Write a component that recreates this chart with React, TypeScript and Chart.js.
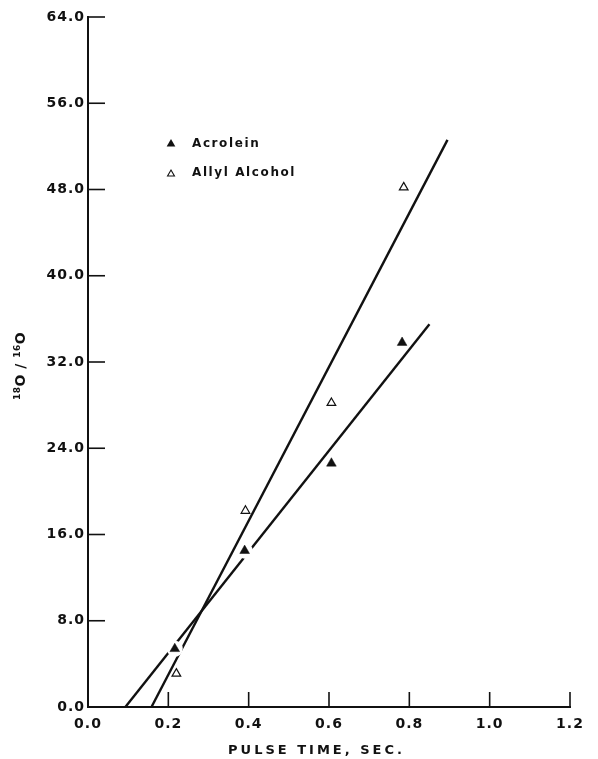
import React, { useEffect, useRef } from 'react';
import { Chart, registerables } from 'chart.js';

Chart.register(...registerables);

// ---- data ----
const acroleinX = [0.216, 0.39, 0.606, 0.782];
const acroleinY = [5.4, 14.5, 22.6, 33.8];
const allylX = [0.22, 0.392, 0.606, 0.786];
const allylY = [3.1, 18.2, 28.2, 48.2];
const acroleinFitX = [0.093, 0.85];
const acroleinFitY = [0, 35.5];
const allylFitX = [0.158, 0.895];
const allylFitY = [0, 52.6];
const xTicks = [0, 0.2, 0.4, 0.6, 0.8, 1.0, 1.2];
const yTicks = [0, 8, 16, 24, 32, 40, 48, 56, 64];
const seriesNames = ['Acrolein', 'Allyl Alcohol'];
const xTitle = 'PULSE TIME, SEC.';
// y title "18O/16O": [text, isSuperscript]
const yTitleParts: [string, boolean][] = [
  ['18', true],
  ['O', false],
  [' / ', false],
  ['16', true],
  ['O', false],
];

const INK = '#111111';
const FONT = '"DejaVu Sans", "Liberation Sans", sans-serif';

const zip = (xs: number[], ys: number[]) => xs.map((x, i) => ({ x, y: ys[i] }));

function triangle(ctx: CanvasRenderingContext2D, x: number, y: number, r: number) {
  const a = (2 * Math.PI) / 3;
  ctx.beginPath();
  ctx.moveTo(x, y - r);
  ctx.lineTo(x + Math.sin(a) * r, y - Math.cos(a) * r);
  ctx.lineTo(x + Math.sin(2 * a) * r, y - Math.cos(2 * a) * r);
  ctx.closePath();
}

const decorPlugin = {
  id: 'decor',
  beforeLayout(chart: any) {
    (chart.ctx as any).letterSpacing = '1px';
  },
  beforeDraw(chart: any) {
    (chart.ctx as any).letterSpacing = '1px';
  },
  afterDraw(chart: any) {
    const { ctx, chartArea, scales } = chart;
    const xs = scales.x;
    const ys = scales.y;
    ctx.save();
    // inward tick marks
    ctx.strokeStyle = INK;
    ctx.lineWidth = 1.6;
    yTicks.forEach((v) => {
      if (v === 0) return;
      const py = ys.getPixelForValue(v);
      ctx.beginPath();
      ctx.moveTo(chartArea.left, py);
      ctx.lineTo(chartArea.left + 17, py);
      ctx.stroke();
    });
    xTicks.forEach((v) => {
      if (v === 0) return;
      const px = xs.getPixelForValue(v);
      ctx.beginPath();
      ctx.moveTo(px, chartArea.bottom);
      ctx.lineTo(px, chartArea.bottom - 15);
      ctx.stroke();
    });

    // legend
    (ctx as any).letterSpacing = '1.6px';
    ctx.font = `bold 12px ${FONT}`;
    ctx.fillStyle = INK;
    ctx.textBaseline = 'middle';
    ctx.textAlign = 'left';
    const lx = chartArea.left + 83;
    const ly = chartArea.top + 127;
    seriesNames.forEach((name, i) => {
      const y = ly + i * 29;
      if (i === 0) {
        triangle(ctx, lx, y, 5);
        ctx.fill();
      } else {
        triangle(ctx, lx, y + 1, 4);
        ctx.lineWidth = 1.1;
        ctx.stroke();
      }
      ctx.fillText(name, lx + 21, y);
    });

    // x axis title
    (ctx as any).letterSpacing = '3px';
    ctx.font = `bold 13px ${FONT}`;
    ctx.textAlign = 'center';
    ctx.fillText(xTitle, chartArea.left + 0.474 * (chartArea.right - chartArea.left), 751);

    // y axis title (rotated, with superscripts)
    (ctx as any).letterSpacing = '0.5px';
    const bigFont = `bold 14px ${FONT}`;
    const smallFont = `bold 9px ${FONT}`;
    let total = 0;
    yTitleParts.forEach(([t, sup]) => {
      ctx.font = sup ? smallFont : bigFont;
      total += ctx.measureText(t).width;
    });
    ctx.translate(25, (chartArea.top + chartArea.bottom) / 2 + 4);
    ctx.rotate(-Math.PI / 2);
    ctx.textAlign = 'left';
    ctx.textBaseline = 'alphabetic';
    let cx = -total / 2;
    yTitleParts.forEach(([t, sup]) => {
      ctx.font = sup ? smallFont : bigFont;
      ctx.fillText(t, cx, sup ? -5 : 0);
      cx += ctx.measureText(t).width;
    });
    ctx.restore();
  },
};

export default function App() {
  const ref = useRef<HTMLCanvasElement | null>(null);

  useEffect(() => {
    document.body.style.margin = '0';
    const canvas = ref.current;
    if (!canvas) return;
    const chart = new Chart(canvas, {
      type: 'scatter',
      data: {
        datasets: [
          {
            label: seriesNames[0],
            data: zip(acroleinX, acroleinY),
            pointStyle: 'triangle',
            pointRadius: 5.6,
            backgroundColor: INK,
            borderColor: INK,
            borderWidth: 0.5,
            order: 0,
          },
          {
            label: seriesNames[1],
            data: zip(allylX, allylY),
            pointStyle: 'triangle',
            pointRadius: 5,
            backgroundColor: '#ffffff',
            borderColor: INK,
            borderWidth: 1.2,
            order: 0,
          },
          {
            label: 'halo',
            data: zip(acroleinX, acroleinY),
            pointStyle: 'circle',
            pointRadius: 8,
            backgroundColor: '#ffffff',
            borderWidth: 0,
            order: 1,
          },
          {
            type: 'line',
            label: 'fit1',
            data: zip(acroleinFitX, acroleinFitY),
            borderColor: INK,
            borderWidth: 2.4,
            pointRadius: 0,
            showLine: true,
            fill: false,
            order: 2,
          },
          {
            type: 'line',
            label: 'fit2',
            data: zip(allylFitX, allylFitY),
            borderColor: INK,
            borderWidth: 2.4,
            pointRadius: 0,
            showLine: true,
            fill: false,
            order: 2,
          },
        ] as any,
      },
      plugins: [decorPlugin],
      options: {
        animation: false,
        responsive: false,
        maintainAspectRatio: false,
        layout: { padding: { top: 17, right: 28, left: 0, bottom: 0 } },
        plugins: {
          legend: { display: false },
          tooltip: { enabled: false },
          title: { display: false },
        },
        scales: {
          x: {
            type: 'linear',
            min: 0,
            max: 1.2,
            afterBuildTicks: (s: any) => {
              s.ticks = xTicks.map((v) => ({ value: v }));
            },
            afterFit: (s: any) => {
              s.height = 52;
            },
            grid: { display: false, drawTicks: false },
            border: { display: true, color: INK, width: 2 },
            ticks: {
              color: INK,
              padding: 9,
              font: { family: FONT, size: 14, weight: 'bold' },
              callback: (v: any) => Number(v).toFixed(1),
              maxRotation: 0,
            },
          },
          y: {
            type: 'linear',
            min: 0,
            max: 64,
            afterBuildTicks: (s: any) => {
              s.ticks = yTicks.map((v) => ({ value: v }));
            },
            afterFit: (s: any) => {
              s.width = 88;
            },
            grid: { display: false, drawTicks: false },
            border: { display: true, color: INK, width: 2 },
            ticks: {
              color: INK,
              padding: 3,
              font: { family: FONT, size: 14, weight: 'bold' },
              callback: (v: any) => Number(v).toFixed(1),
            },
          },
        },
      } as any,
    });
    return () => chart.destroy();
  }, []);

  return (
    <div style={{ width: 598, height: 759, background: '#ffffff' }}>
      <canvas ref={ref} width={598} height={759} style={{ display: 'block' }} />
    </div>
  );
}
